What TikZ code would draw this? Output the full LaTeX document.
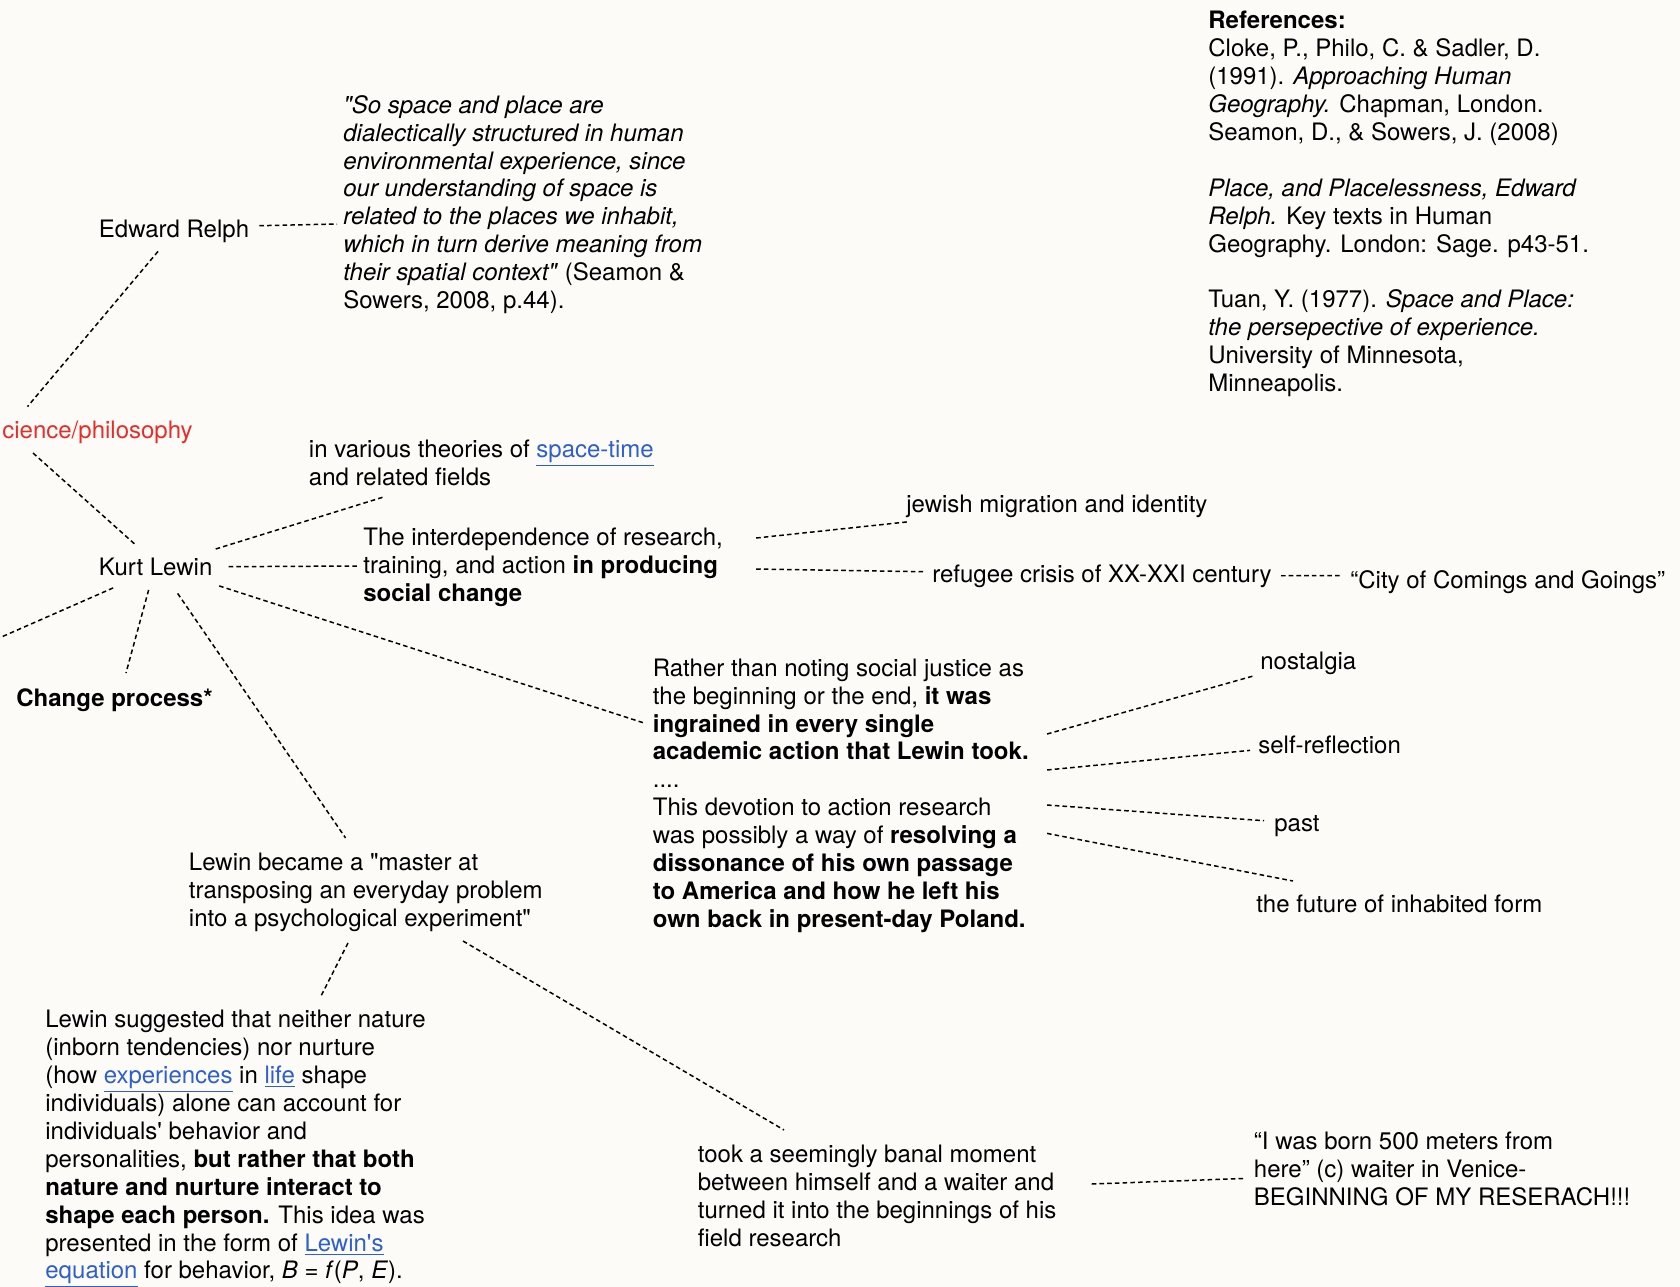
\documentclass[tikz,border=0pt]{standalone}
\usepackage{fontspec}
\setmainfont{TeX Gyre Heros}
\usetikzlibrary{positioning}

\definecolor{paper}{RGB}{253,251,247}
\definecolor{linkblue}{RGB}{45,95,205}
\definecolor{sciRed}{RGB}{232,45,40}
\newcommand{\mapfont}{\fontsize{13.66}{15.88}\selectfont}
\newcommand{\lnk}[1]{\textcolor{linkblue}{\underline{#1}}}
\newcommand{\up}{\vphantom{Ap}}
\newcommand{\dq}{\textquotedbl}
\newcommand{\sq}{\textquotesingle}

\begin{document}
\begin{tikzpicture}[x=0.02cm, y=-0.02cm,
    words/.style={anchor=north west, inner sep=0pt, align=left, font=\mapfont},
    conn/.style={line width=0.85pt, dash pattern=on 2.6pt off 1.8pt}]
    % Canvas
    \useasboundingbox (0,0) rectangle (1680,1287);
    \fill[paper] (0,0) rectangle (1680,1287);
    \clip (0,0) rectangle (1680,1287);

    % References
    \node[words] (refs) at (1208,11) {\up\textbf{References:}\\ Cloke, P., Philo, C. \& Sadler, D.\\ (1991). \textit{Approaching Human}\\ \textit{Geography.} Chapman, London.\\ Seamon, D., \& Sowers, J. (2008)\\ \mbox{}\\ \textit{Place, and Placelessness, Edward}\\ \textit{Relph.} Key texts in Human\\ Geography. London: Sage. p43-51.\\ \mbox{}\\ Tuan, Y. (1977). \textit{Space and Place:}\\ \textit{the persepective of experience.}\\ University of Minnesota,\\ Minneapolis.};

    % Relph branch
    \node[words] (quote) at (343,95) {\up\textit{\dq So space and place are}\\ \textit{dialectically structured in human}\\ \textit{environmental experience, since}\\ \textit{our understanding of space is}\\ \textit{related to the places we inhabit,}\\ \textit{which in turn derive meaning from}\\ \textit{their spatial context\dq} (Seamon \&\\ Sowers, 2008, p.44).};
    \node[words] (relph) at (98.6,220) {\up Edward Relph};
    \node[words, anchor=north east, text=sciRed] (sci) at (193,420.6) {\up cience/philosophy};

    % Lewin and his branches
    \node[words] (lewin) at (98.6,558) {\up Kurt Lewin};
    \node[words] (theories) at (308.6,440) {\up in various theories of \lnk{space-time}\\ and related fields};
    \node[words] (interdep) at (363,528) {\up The interdependence of research,\\ training, and action \textbf{in producing}\\ \textbf{social change}};
    \node[words] (jewish) at (906,494.5) {\up jewish migration and identity};
    \node[words] (refugee) at (932,565) {\up refugee crisis of XX-XXI century};
    \node[words] (city) at (1350,570.5) {\up “City of Comings and Goings”};
    \node[words] (change) at (16,688) {\up\textbf{Change process*}};

    % Social justice
    \node[words] (rather) at (652.5,658.4) {\up Rather than noting social justice as\\ the beginning or the end, \textbf{it was}\\ \textbf{ingrained in every single}\\ \textbf{academic action that Lewin took.}\\ ....\\ This devotion to action research\\ was possibly a way of \textbf{resolving a}\\ \textbf{dissonance of his own passage}\\ \textbf{to America and how he left his}\\ \textbf{own back in present-day Poland.}};
    \node[words] (nostalgia) at (1260,652) {\up nostalgia};
    \node[words] (selfref) at (1258,735.6) {\up self-reflection};
    \node[words] (past) at (1274,814) {\up past};
    \node[words] (future) at (1256,895) {\up the future of inhabited form};

    % Experiment
    \node[words] (master) at (188.6,853) {\up Lewin became a \dq master at\\ transposing an everyday problem\\ into a psychological experiment\dq};
    \node[words] (suggested) at (45,1010) {\up Lewin suggested that neither nature\\ (inborn tendencies) nor nurture\\ (how \lnk{experiences} in \lnk{life} shape\\ individuals) alone can account for\\ individuals\sq\ behavior and\\ personalities, \textbf{but rather that both}\\ \textbf{nature and nurture interact to}\\ \textbf{shape each person.} This idea was\\ presented in the form of \lnk{Lewin\sq s}\\ \lnk{equation} for behavior, \textit{B} = \textit{f}(\textit{P}, \textit{E}).};
    \node[words] (banal) at (697.5,1145) {\up took a seemingly banal moment\\ between himself and a waiter and\\ turned it into the beginnings of his\\ field research};
    \node[words] (born) at (1253.6,1132) {\up “I was born 500 meters from\\ here” (c) waiter in Venice-\\ BEGINNING OF MY RESERACH!!!};
    \coordinate (offleft) at (-2,638.5);

    % Connectors
    \draw[conn] ([shift={(10,-6)}]relph.east) -- ([shift={(-6,129)}]quote.north west);
    \draw[conn] ([shift={(-16,8)}]relph.south) -- ([shift={(-70,-14)}]sci.north);
    \draw[conn] ([shift={(-64.5,9)}]sci.south) -- ([shift={(-21,-14)}]lewin.north);
    \draw[conn] ([shift={(3,-9)}]lewin.north east) -- ([shift={(75,57)}]theories.north west);
    \draw[conn] ([shift={(16,-3)}]lewin.east) -- ([shift={(-6,38)}]interdep.north west);
    \draw[conn] ([shift={(-42.5,6.5)}]lewin.south) -- (offleft);
    \draw[conn] ([shift={(-7,8.5)}]lewin.south) -- ([shift={(11.5,-15)}]change.north);
    \draw[conn] ([shift={(22,12)}]lewin.south) -- ([shift={(157,-15)}]master.north west);
    \draw[conn] ([shift={(6.5,4.5)}]lewin.south east) -- ([shift={(-8.5,64.6)}]rather.north west);
    \draw[conn] ([shift={(33,10)}]interdep.north east) -- ([shift={(1,4)}]jewish.south west);
    \draw[conn] ([shift={(33,41)}]interdep.north east) -- ([shift={(-8,-5)}]refugee.west);
    \draw[conn] ([shift={(9,-1)}]refugee.east) -- ([shift={(-9,-6.75)}]city.west);
    \foreach \sy/\tgt/\ex/\ey/\anc in {75.6/nostalgia/-6.5/0.5/south west, 111.6/selfref/-8/3/west, 146.6/past/-10/-5/west, 175/future/37/-14/north west}
      \draw[conn] ([shift={(18,\sy)}]rather.north east) -- ([shift={(\ex,\ey)}]\tgt.\anc);
    \draw[conn] ([shift={(159.4,90)}]master.north west) -- ([shift={(276,-14)}]suggested.north west);
    \draw[conn] ([shift={(274.4,88)}]master.north west) -- ([shift={(86.5,-15)}]banal.north west);
    \draw[conn] ([shift={(35,39)}]banal.north east) -- ([shift={(-10.6,46.5)}]born.north west);
\end{tikzpicture}
\end{document}
